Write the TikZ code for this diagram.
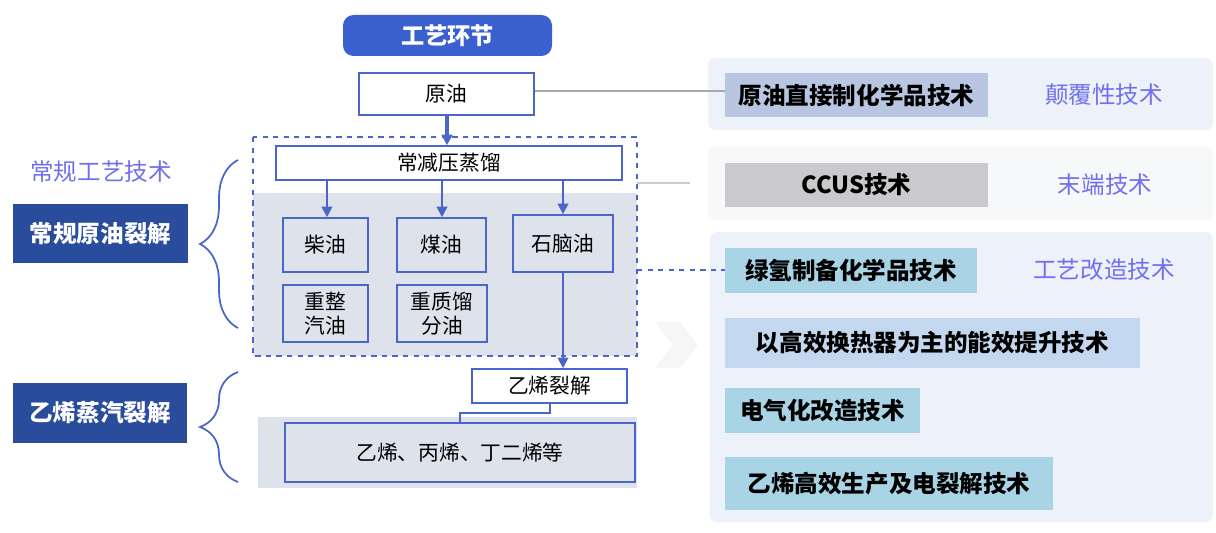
\documentclass[tikz,border=0pt]{standalone}
\usepackage{fontspec}
\setmainfont{Noto Sans CJK SC}
\usetikzlibrary{fit,arrows.meta,decorations.pathreplacing}
\definecolor{navy}{HTML}{2A4C9C}
\definecolor{titleblue}{HTML}{3A60CF}
\definecolor{lineblue}{HTML}{4A66C8}
\definecolor{purp}{HTML}{7070EE}
\definecolor{regiongray}{HTML}{DEE2EA}
\definecolor{panel}{HTML}{EDF2FA}
\definecolor{slate}{HTML}{B9C6E2}
\definecolor{ccusgray}{HTML}{CACACD}
\definecolor{cyanbox}{HTML}{A9D4E5}
\definecolor{lightbox}{HTML}{C3D8EE}
\definecolor{connGray}{HTML}{A8A8AC}
\tikzset{
  px/.style={x=0.02cm,y=-0.02cm},
  flowfont/.style={font=\fontsize{11.8}{13.8}\selectfont,align=center},
  flowbox/.style={draw=lineblue,line width=0.9pt,fill=white,inner sep=0pt},
  graybox/.style={flowbox,fill=regiongray},
  navybox/.style={fill=navy,inner sep=0pt},
  navyfont/.style={text=white,font=\bfseries\fontsize{13.4}{16}\selectfont},
  techbox/.style={inner sep=0pt},
  techfont/.style={font=\bfseries\fontsize{13.4}{16}\selectfont},
  purptext/.style={text=purp,font=\fontsize{13.4}{16}\selectfont},
  flowarrow/.style={draw=lineblue,line width=1.2pt,-{Triangle[length=6pt,width=6pt]}},
  bracestyle/.style={draw=lineblue,line width=1pt,decorate,decoration={brace,amplitude=0.76cm}},
}
\begin{document}
\begin{tikzpicture}[px]
\useasboundingbox (0,0) rectangle (1216,533);
% right panel background
\fill[panel,rounded corners=4pt] (708,58) rectangle (1213,130);
\fill[panel!80!gray!20,rounded corners=4pt] (708,147) rectangle (1213,220);
\fill[panel,rounded corners=4pt] (710,232) rectangle (1213,522);
% faint chevron
\fill[gray!7] (655,322) -- (680,322) -- (698,345) -- (680,368) -- (655,368) -- (673,345) -- cycle;
% region
\fill[regiongray] (253,193) rectangle (637,356);
\fill[regiongray] (258,417) rectangle (637,488);
\draw[lineblue,dashed,line width=0.9pt] (253,137) rectangle (637,356);
% title
\node[fit={(343,15) (552,56)},inner sep=0pt,fill=titleblue,rounded corners=6pt,
  label={[text=white,font=\bfseries\fontsize{13.2}{16}\selectfont]center:工艺环节}] (title) {};
% flow boxes
\node[flowbox,fit={(359,73) (534,115)},label={[flowfont]center:原油}] (yuanyou) {};
\node[flowbox,fit={(276,146) (622,180)},label={[flowfont]center:常减压蒸馏}] (cjy) {};
\node[graybox,fit={(283,218) (368,272)},label={[flowfont]center:柴油}] (chai) {};
\node[graybox,fit={(397,218) (486,272)},label={[flowfont]center:煤油}] (mei) {};
\node[graybox,fit={(513,215) (613,272)},label={[flowfont]center:石脑油}] (shi) {};
\node[graybox,fit={(283,285) (368,342)},label={[flowfont]center:重整\\汽油}] (chong) {};
\node[graybox,fit={(397,285) (487,342)},label={[flowfont]center:重质馏\\分油}] (zhong) {};
\node[flowbox,fit={(472,369) (627,403)},label={[flowfont]center:乙烯裂解}] (yxlj) {};
\node[graybox,fit={(285,423) (635,482)},label={[flowfont]center:乙烯、丙烯、丁二烯等}] (prod) {};
% arrows
\draw[flowarrow,line width=2.2pt] (yuanyou.south -| 447,0) -- (cjy.north -| 447,0);
\draw[flowarrow] (cjy.south -| 327,0) -- (chai.north -| 327,0);
\draw[flowarrow] (cjy.south -| 442,0) -- (mei.north -| 442,0);
\draw[flowarrow] (cjy.south -| 563,0) -- (shi.north -| 563,0);
\draw[flowarrow] (shi.south -| 563,0) -- (yxlj.north -| 563,0);
\coordinate (elb1) at (550,413);
\coordinate (elb2) at (460,413);
\draw[lineblue,line width=1pt] (yxlj.south -| elb1) -- (elb1) -- (elb2) -- (elb2 |- prod.north);
% left labels
\node[purptext] (cgjs) at (101,172) {常规工艺技术};
\node[navybox,fit={(13,204) (188,263)},label={[navyfont]center:常规原油裂解}] (cgyy) {};
\node[navybox,fit={(13,383) (187,443)},label={[navyfont]center:乙烯蒸汽裂解}] (yxzq) {};
\draw[bracestyle] (238,328) -- (238,160);
\draw[bracestyle] (238,482) -- (238,372);
% right tech boxes
\node[techbox,fill=slate,fit={(725,73) (988,117)},label={[techfont]center:原油直接制化学品技术}] (t1) {};
\node[techbox,fill=ccusgray,fit={(725,163) (988,207)},label={[techfont]center:CCUS技术}] (t2) {};
\node[techbox,fill=cyanbox,fit={(725,248) (977,293)},label={[techfont]center:绿氢制备化学品技术}] (t3) {};
\node[techbox,fill=lightbox,fit={(725,318) (1140,368)},label={[techfont]center:以高效换热器为主的能效提升技术}] (t4) {};
\node[techbox,fill=cyanbox,fit={(725,388) (920,433)},label={[techfont]center:电气化改造技术}] (t5) {};
\node[techbox,fill=cyanbox,fit={(725,457) (1053,510)},label={[techfont]center:乙烯高效生产及电裂解技术}] (t6) {};
\node[purptext] (c1) at (1104,95) {颠覆性技术};
\node[purptext] (c2) at (1105,185) {末端技术};
\node[purptext] (c3) at (1104,270) {工艺改造技术};
% connectors to right
\draw[connGray,line width=1pt] (yuanyou.east |- 0,91) -- (t1.west |- 0,91);
\coordinate (ccusend) at (690,183);
\draw[connGray!60,line width=1pt] (637,183) -- (ccusend);
\draw[lineblue,dashed,line width=0.9pt] (637,270) -- (t3.west |- 0,270);
\end{tikzpicture}
\end{document}
